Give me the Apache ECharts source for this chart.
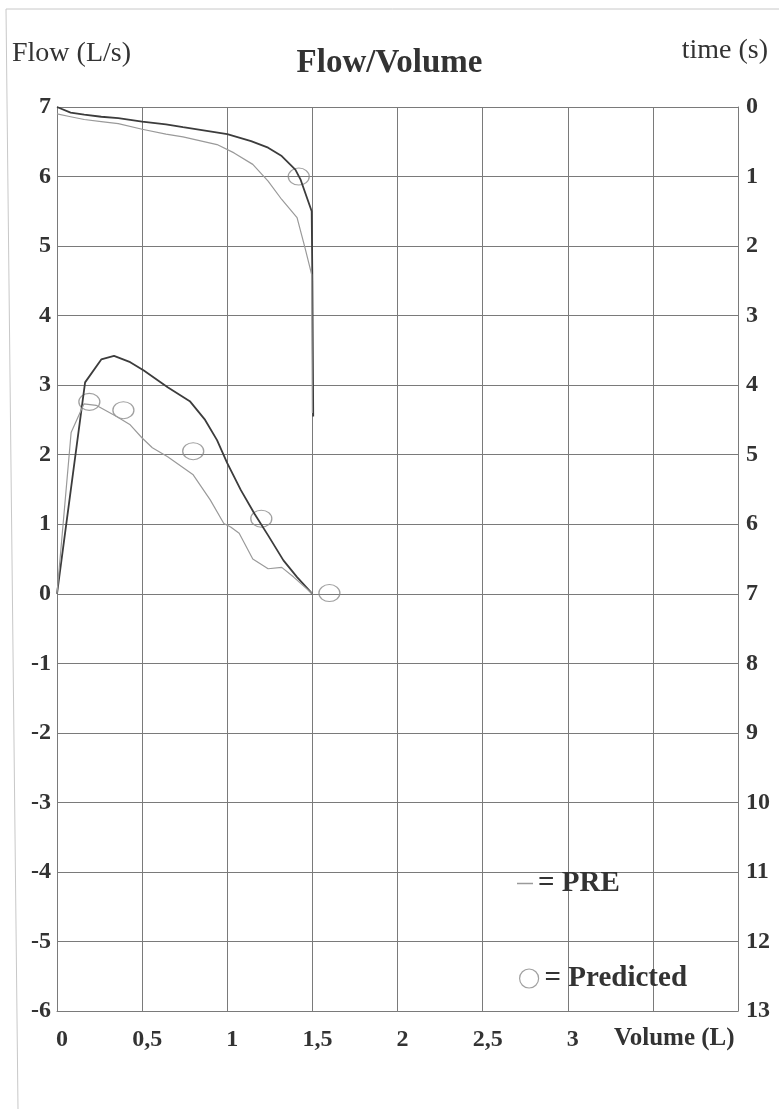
<!DOCTYPE html>
<html>
<head>
    <meta charset="utf-8">
    <script src="https://cdn.jsdelivr.net/npm/echarts@6/dist/echarts.min.js"></script>
    <style>
    html, body { margin: 0; padding: 0; background: #fff; }
    #main { width: 779px; height: 1109px; }
    </style>
    <title>Flow/Volume</title>
</head>
<body>
    <div id="main"></div>
    <script type="text/javascript">

        // flow-volume loops: [volume L, flow L/s]
        var postFlow = [[0, 0], [0.165, 3.04], [0.26, 3.37], [0.335, 3.42], [0.43, 3.33], [0.51, 3.21],
            [0.65, 2.97], [0.78, 2.77], [0.87, 2.5], [0.94, 2.21], [1.0, 1.88], [1.08, 1.49],
            [1.16, 1.15], [1.24, 0.84], [1.33, 0.48], [1.41, 0.24], [1.5, 0]];
        var preFlow = [[0, 0], [0.083, 2.32], [0.158, 2.73], [0.23, 2.71], [0.35, 2.55], [0.43, 2.43],
            [0.5, 2.24], [0.56, 2.1], [0.65, 1.97], [0.8, 1.71], [0.9, 1.35], [0.98, 1.01],
            [1.02, 0.96], [1.07, 0.87], [1.15, 0.5], [1.24, 0.36], [1.32, 0.38], [1.39, 0.24], [1.5, 0]];

        // volume-time curves: [volume L, time s]
        var postTime = [[0, 0], [0.08, 0.08], [0.16, 0.11], [0.26, 0.14], [0.36, 0.16], [0.5, 0.21],
            [0.64, 0.25], [0.74, 0.29], [1.0, 0.39], [1.14, 0.49], [1.24, 0.585], [1.32, 0.705],
            [1.4, 0.9], [1.43, 1.04], [1.496, 1.5], [1.5, 2.5], [1.505, 4.45]];
        var preTime = [[0, 0.1], [0.08, 0.14], [0.16, 0.18], [0.26, 0.21], [0.36, 0.24], [0.5, 0.32],
            [0.64, 0.39], [0.74, 0.43], [0.94, 0.54], [1.04, 0.66], [1.15, 0.825], [1.24, 1.065],
            [1.32, 1.33], [1.41, 1.59], [1.456, 2.02], [1.496, 2.41], [1.5, 4.4]];

        // predicted values
        var predFlow = [[0.19, 2.76], [0.39, 2.64], [0.8, 2.05], [1.2, 1.08], [1.6, 0.01]];
        var predTime = [[1.42, 1.0]];

        var serif = 'Liberation Serif';
        var ink = '#333';
        var gridColor = '#7a7a7a';

        var myChart = echarts.init(document.getElementById('main'));

        var option = {
            backgroundColor: '#fff',
            animation: false,
            title: {
                text: 'Flow/Volume',
                left: 'center',
                top: 42,
                textStyle: { fontFamily: serif, fontWeight: 'bold', fontSize: 33, color: ink }
            },
            grid: { left: 57, right: 41, top: 107, bottom: 98 },
            legend: [
                {
                    left: 512, top: 864,
                    data: [{ name: 'PRE', icon: 'rect' }],
                    itemWidth: 16, itemHeight: 1.5, itemGap: 6,
                    formatter: '= {name}',
                    textStyle: { fontFamily: serif, fontWeight: 'bold', fontSize: 29, color: ink }
                },
                {
                    left: 514, top: 959,
                    data: [{ name: 'Predicted', icon: 'circle', itemStyle: { color: '#fff', borderColor: '#888', borderWidth: 1.2 } }],
                    itemWidth: 21, itemHeight: 19, itemGap: 6,
                    formatter: '= {name}',
                    textStyle: { fontFamily: serif, fontWeight: 'bold', fontSize: 29, color: ink }
                }
            ],
            xAxis: {
                type: 'value',
                min: 0, max: 4, interval: 0.5,
                axisLine: { show: true, onZero: false, lineStyle: { color: gridColor } },
                axisTick: { show: false },
                splitLine: { show: true, lineStyle: { color: gridColor, width: 1 } },
                axisLabel: {
                    margin: 17,
                    padding: [0, 0, 0, 10],
                    fontFamily: serif, fontWeight: 'bold', fontSize: 24, color: ink,
                    formatter: function (v) { return v > 3 ? '' : String(v).replace('.', ','); }
                }
            },
            yAxis: [
                {
                    type: 'value',
                    min: -6, max: 7, interval: 1,
                    axisLine: { show: true, onZero: false, lineStyle: { color: gridColor } },
                    axisTick: { show: false },
                    splitLine: { show: true, lineStyle: { color: gridColor, width: 1 } },
                    axisLabel: { margin: 6, fontFamily: serif, fontWeight: 'bold', fontSize: 24, color: ink }
                },
                {
                    type: 'value',
                    inverse: true,
                    min: 0, max: 13, interval: 1,
                    position: 'right',
                    axisLine: { show: true, onZero: false, lineStyle: { color: gridColor } },
                    axisTick: { show: false },
                    splitLine: { show: false },
                    axisLabel: { margin: 8, fontFamily: serif, fontWeight: 'bold', fontSize: 24, color: ink }
                }
            ],
            graphic: [
                {
                    type: 'polyline', silent: true,
                    shape: { points: [[779, 9], [6, 9], [18, 1109]] },
                    style: { stroke: '#c8c8c8', lineWidth: 1, fill: null }
                },
                {
                    type: 'text', left: 12, top: 40,
                    style: { text: 'Flow (L/s)', fontFamily: serif, fontSize: 28, fill: ink }
                },
                {
                    type: 'text', right: 11, top: 37,
                    style: { text: 'time (s)', fontFamily: serif, fontSize: 28, fill: ink }
                },
                {
                    type: 'text', left: 614, top: 1026,
                    style: { text: 'Volume (L)', fontFamily: serif, fontWeight: 'bold', fontSize: 25, fill: ink }
                }
            ],
            series: [
                {
                    name: 'POST', type: 'line', data: postFlow,
                    showSymbol: false, lineStyle: { color: '#3c3c3c', width: 1.8 }, itemStyle: { color: '#3c3c3c' }
                },
                {
                    name: 'PRE', type: 'line', data: preFlow,
                    showSymbol: false, lineStyle: { color: '#9a9a9a', width: 1.2 }, itemStyle: { color: '#9a9a9a' }
                },
                {
                    name: 'POST', type: 'line', yAxisIndex: 1, data: postTime,
                    showSymbol: false, lineStyle: { color: '#3c3c3c', width: 1.8 }, itemStyle: { color: '#3c3c3c' }
                },
                {
                    name: 'PRE', type: 'line', yAxisIndex: 1, data: preTime,
                    showSymbol: false, lineStyle: { color: '#9a9a9a', width: 1.2 }, itemStyle: { color: '#9a9a9a' }
                },
                {
                    name: 'Predicted', type: 'scatter', data: predFlow,
                    symbol: 'circle', symbolSize: [21, 17],
                    itemStyle: { color: 'rgba(255,255,255,0)', borderColor: '#888', borderWidth: 1.2 }
                },
                {
                    name: 'Predicted', type: 'scatter', yAxisIndex: 1, data: predTime,
                    symbol: 'circle', symbolSize: [21, 17],
                    itemStyle: { color: 'rgba(255,255,255,0)', borderColor: '#888', borderWidth: 1.2 }
                }
            ]
        };
        myChart.setOption(option);

    </script>
</body>
</html>
